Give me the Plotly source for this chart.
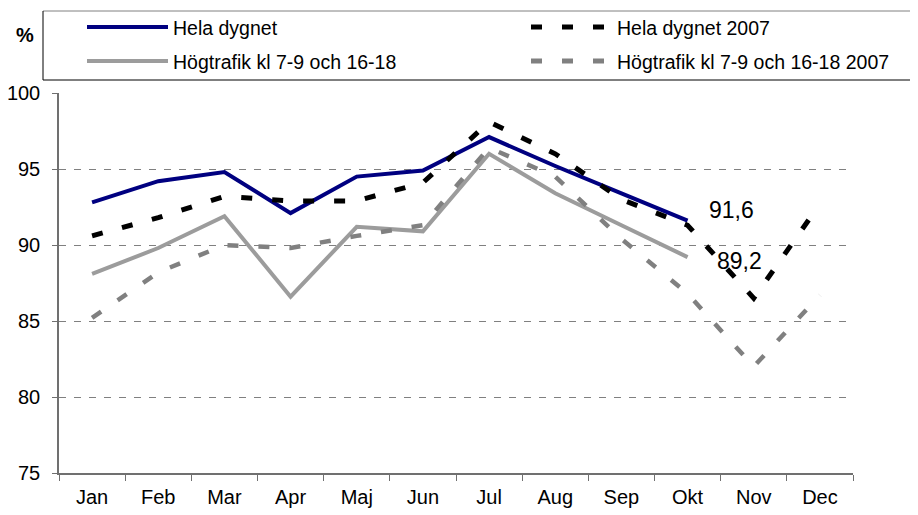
import plotly.graph_objects as go

# ---------------- data ----------------
months = ["Jan", "Feb", "Mar", "Apr", "Maj", "Jun", "Jul", "Aug", "Sep", "Okt", "Nov", "Dec"]
hela_dygnet = [92.8, 94.2, 94.8, 92.1, 94.5, 94.9, 97.1, 95.2, 93.4, 91.6]
hogtrafik = [88.1, 89.8, 91.9, 86.6, 91.2, 90.9, 96.0, 93.4, 91.3, 89.2]
hela_dygnet_2007 = [90.6, 91.8, 93.2, 92.9, 92.9, 94.1, 98.1, 96.0, 93.0, 91.3, 86.5, 92.7]
hogtrafik_2007 = [85.2, 88.2, 90.0, 89.8, 90.6, 91.3, 96.4, 94.5, 90.4, 86.8, 82.0, 86.7]
y_ticks = [75, 80, 85, 90, 95, 100]
series_names = ["Hela dygnet", "Högtrafik kl 7-9 och 16-18",
                "Hela dygnet 2007", "Högtrafik kl 7-9 och 16-18 2007"]

# ---------------- style ----------------
FONT = "Liberation Sans, Arial, sans-serif"
NAVY = "#000080"
GREY_SOLID = "#9c9c9c"
GREY_DASH = "#808080"
BLACK = "#000000"
DASH = "11px,20px"

OFF = 8  # default page body margin
W_FIG, H_FIG = 918 - OFF, 515 - OFF
L, R, T, B = 51, 65, 85, 42
PW = W_FIG - L - R
PH = H_FIG - T - B


def px(x):
    """page x pixel -> paper coordinate"""
    return (x - OFF - L) / PW


def py(y):
    """page y pixel -> paper coordinate"""
    return (H_FIG - B - (y - OFF)) / PH


fig = go.Figure()
fig.add_trace(go.Scatter(x=months[:len(hogtrafik)], y=hogtrafik, mode="lines",
                         name=series_names[1], line=dict(color=GREY_SOLID, width=4)))
fig.add_trace(go.Scatter(x=months[:len(hela_dygnet)], y=hela_dygnet, mode="lines",
                         name=series_names[0], line=dict(color=NAVY, width=4)))
fig.add_trace(go.Scatter(x=months, y=hogtrafik_2007, mode="lines",
                         name=series_names[3], line=dict(color=GREY_DASH, width=4.5, dash=DASH)))
fig.add_trace(go.Scatter(x=months, y=hela_dygnet_2007, mode="lines",
                         name=series_names[2], line=dict(color=BLACK, width=5, dash=DASH)))

shapes = []
annotations = []

# legend box (extends past the right edge)
shapes.append(dict(type="line", xref="paper", yref="paper", x0=px(43), x1=px(940),
                   y0=py(11), y1=py(11), line=dict(color="#808080", width=1)))
shapes.append(dict(type="line", xref="paper", yref="paper", x0=px(43), x1=px(940),
                   y0=py(80), y1=py(80), line=dict(color="#000000", width=1)))
shapes.append(dict(type="line", xref="paper", yref="paper", x0=px(43), x1=px(43),
                   y0=py(11), y1=py(80), line=dict(color="#000000", width=1)))

# legend samples
legend_items = [
    (series_names[0], NAVY, 4, "solid", 87, 168, 27, 171),
    (series_names[1], GREY_SOLID, 4, "solid", 87, 168, 61, 171),
    (series_names[2], BLACK, 5, DASH, 531, 612, 27, 615),
    (series_names[3], GREY_DASH, 5, DASH, 531, 612, 61, 615),
]
for name, col, w, dash, x0, x1, yy, tx in legend_items:
    shapes.append(dict(type="line", xref="paper", yref="paper", x0=px(x0), x1=px(x1),
                       y0=py(yy), y1=py(yy), line=dict(color=col, width=w, dash=dash)))
    annotations.append(dict(xref="paper", yref="paper", x=px(tx), y=py(yy + 1),
                            text=name, showarrow=False, xanchor="left", yanchor="middle",
                            font=dict(family=FONT, size=19.5, color="#000000")))

# % unit label
annotations.append(dict(xref="paper", yref="paper", x=px(25), y=py(35), text="<b>%</b>",
                        showarrow=False, xanchor="center", yanchor="middle",
                        font=dict(family=FONT, size=20, color="#000000")))

# value labels at the last current-year points
annotations.append(dict(x=months[len(hela_dygnet) - 1], y=hela_dygnet[-1],
                        text=f"{hela_dygnet[-1]:.1f}".replace(".", ","), showarrow=False,
                        xanchor="center", yanchor="middle", xshift=44, yshift=11,
                        font=dict(family=FONT, size=23, color="#000000")))
annotations.append(dict(x=months[len(hogtrafik) - 1], y=hogtrafik[-1],
                        text=f"{hogtrafik[-1]:.1f}".replace(".", ","), showarrow=False,
                        xanchor="center", yanchor="middle", xshift=52, yshift=-4,
                        font=dict(family=FONT, size=23, color="#000000")))

fig.update_layout(
    width=W_FIG, height=H_FIG,
    margin=dict(l=L, r=R, t=T, b=B, autoexpand=False),
    paper_bgcolor="white", plot_bgcolor="white",
    showlegend=False,
    font=dict(family=FONT, size=20, color="#000000"),
    shapes=shapes, annotations=annotations,
    xaxis=dict(type="category", categoryorder="array", categoryarray=months,
               range=[-0.5, len(months) - 0.5], tickson="boundaries",
               ticks="outside", ticklen=6, tickcolor="#707070", tickwidth=1,
               showline=True, linecolor="#707070", linewidth=1.5,
               showgrid=False, zeroline=False, automargin=False,
               tickfont=dict(family=FONT, size=20), ticklabelstandoff=5),
    yaxis=dict(range=[75, 100], tickvals=y_ticks, ticktext=[str(v) for v in y_ticks],
               ticks="outside", ticklen=5, tickcolor="#707070", tickwidth=1,
               showline=True, linecolor="#707070", linewidth=1.5,
               showgrid=True, gridcolor="#808080", gridwidth=1, griddash="7px,8px",
               zeroline=False, automargin=False,
               tickfont=dict(family=FONT, size=20), ticklabelstandoff=8),
)

fig.write_html("out.html")
